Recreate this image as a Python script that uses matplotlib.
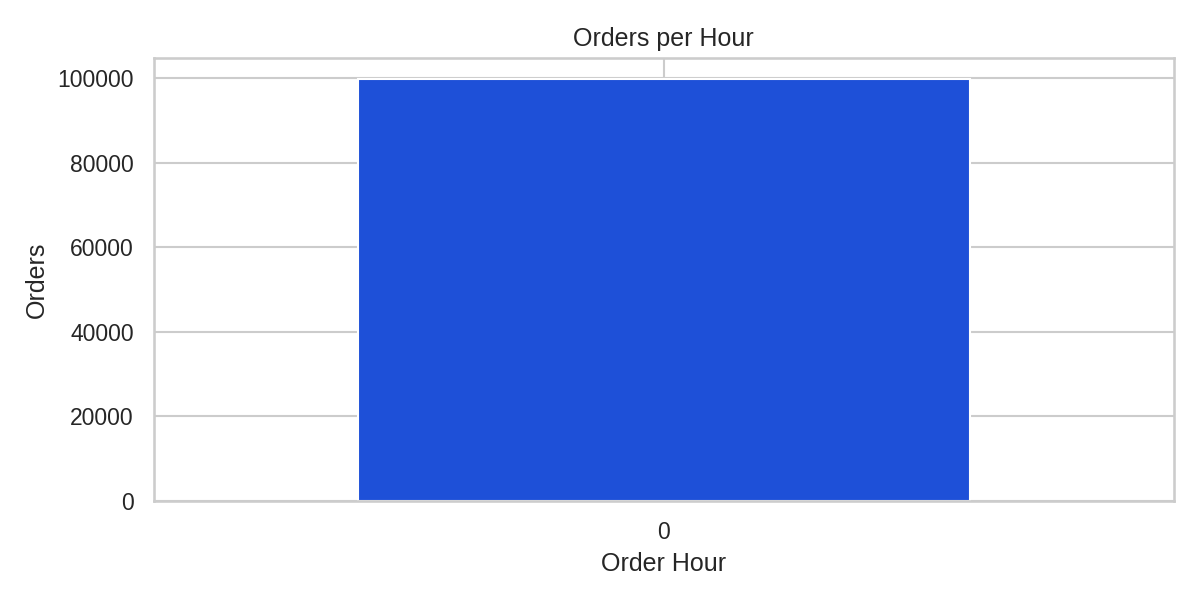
import matplotlib

matplotlib.use("Agg")

import matplotlib.pyplot as plt
import seaborn as sns


hours = ["0"]
orders = [99700]

BAR_COLOR = "#1e50d8"


def main():
    sns.set_theme(style="whitegrid")
    plt.rcParams["font.family"] = ["Liberation Sans", "DejaVu Sans"]

    fig, ax = plt.subplots(figsize=(8, 4), dpi=150)

    ax.bar(hours, orders, width=0.6, color=BAR_COLOR)
    ax.set_xlim(-0.5, 0.5)
    ax.set_ylim(0, max(orders) * 1.05)

    ax.set_title("Orders per Hour")
    ax.set_xlabel("Order Hour")
    ax.set_ylabel("Orders")

    fig.subplots_adjust(left=0.128, right=0.978, top=0.903, bottom=0.165)
    fig.savefig("out.png", dpi=150)
    plt.close(fig)


if __name__ == "__main__":
    main()
